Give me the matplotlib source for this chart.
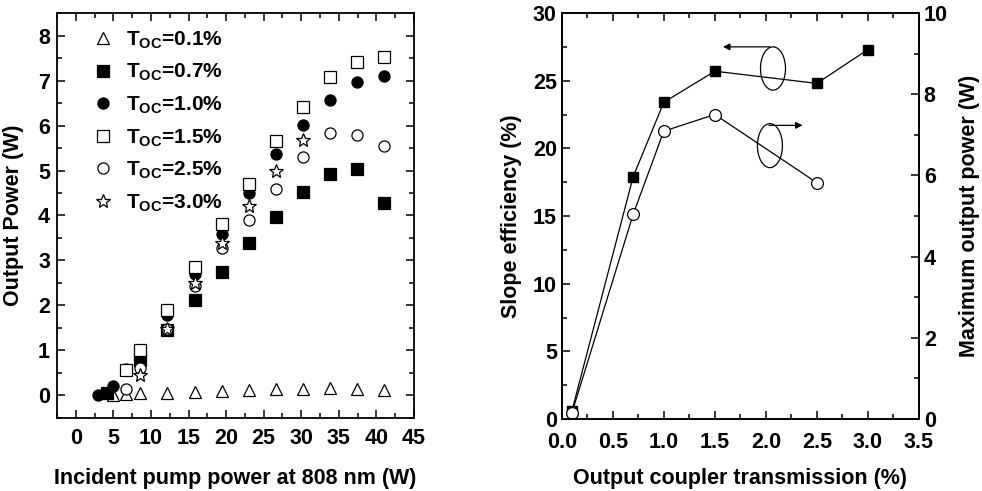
import numpy as np
import matplotlib
matplotlib.use("Agg")
import matplotlib.pyplot as plt
from matplotlib.patches import Ellipse
from matplotlib.ticker import MultipleLocator

matplotlib.rcParams.update(
    {
        'font.family': ['Liberation Sans', 'DejaVu Sans'],
        'font.weight': 'bold',
        'axes.labelweight': 'bold',
        'axes.linewidth': 1.3,
        'mathtext.fontset': 'custom',
        'mathtext.rm': 'Liberation Sans:bold',
        'mathtext.it': 'Liberation Sans:bold',
        'mathtext.bf': 'Liberation Sans:bold',
    }
)

# left panel: output power vs incident pump power
labels = ["0.1", "0.7", "1.0", "1.5", "2.5", "3.0"]

x_01 = [4.9, 6.7, 8.6, 12.2, 15.8, 19.4, 23.0, 26.6, 30.2, 33.8, 37.4, 41.0]
y_01 = [0.02, 0.03, 0.05, 0.06, 0.08, 0.11, 0.13, 0.14, 0.15, 0.17, 0.15, 0.13]

x_07 = [4.1, 8.6, 12.2, 15.8, 19.4, 23.0, 26.6, 30.2, 33.8, 37.4, 41.0]
y_07 = [0.06, 0.78, 1.45, 2.12, 2.75, 3.38, 3.97, 4.53, 4.92, 5.03, 4.27]

x_10 = [3.0, 4.9, 6.7, 8.6, 12.2, 15.8, 19.4, 23.0, 26.6, 30.2, 33.8, 37.4, 41.0]
y_10 = [0.0, 0.2, 0.58, 0.98, 1.79, 2.69, 3.58, 4.5, 5.36, 6.02, 6.57, 6.96, 7.1]

x_15 = [6.7, 8.6, 12.2, 15.8, 19.4, 23.0, 26.6, 30.2, 33.8, 37.4, 41.0]
y_15 = [0.57, 1.02, 1.9, 2.86, 3.81, 4.69, 5.65, 6.42, 7.07, 7.42, 7.52]

x_25 = [6.7, 8.6, 12.2, 15.8, 19.4, 23.0, 26.6, 30.2, 33.8, 37.4, 41.0]
y_25 = [0.15, 0.6, 1.47, 2.43, 3.27, 3.89, 4.58, 5.3, 5.83, 5.8, 5.55]

x_30 = [8.6, 12.2, 15.8, 19.4, 23.0, 26.6, 30.2]
y_30 = [0.46, 1.47, 2.5, 3.38, 4.22, 5.0, 5.67]

# right panel
t_oc = [0.1, 0.7, 1.0, 1.5, 2.5, 3.0]
slope = [0.6, 17.9, 23.4, 25.7, 24.8, 27.3]
t_oc_p = [0.1, 0.7, 1.0, 1.5, 2.5]
pmax = [0.15, 5.04, 7.09, 7.5, 5.82]

fig = plt.figure(figsize=(9.82, 4.91), dpi=100)
ax1 = fig.add_axes([0.058, 0.1487, 0.3636, 0.8248])

series = [
    (x_01, y_01, '^', 'white'),
    (x_07, y_07, 's', 'black'),
    (x_10, y_10, 'o', 'black'),
    (x_15, y_15, 's', 'white'),
    (x_25, y_25, 'o', 'white'),
    (x_30, y_30, '*', 'white'),
]
for (xs, ys, m, fc), lab in zip(series, labels):
    ms = 10.5 if m == '*' else 8
    ax1.plot(xs, ys, linestyle='none', marker=m, markersize=ms,
             markerfacecolor=fc, markeredgecolor='black', markeredgewidth=0.9,
             label=r'T$_{\mathregular{OC}}$=' + lab + '%')

ax1.set_xlim(-2.5, 45)
ax1.set_ylim(-0.5, 8.5)
ax1.xaxis.set_major_locator(MultipleLocator(5))
ax1.xaxis.set_minor_locator(MultipleLocator(2.5))
ax1.yaxis.set_major_locator(MultipleLocator(1))
ax1.yaxis.set_minor_locator(MultipleLocator(0.5))
ax1.tick_params(which='both', direction='in', top=True, right=True,
                labelsize=15.5, width=1.1)
ax1.tick_params(which='major', length=6, pad=5)
ax1.tick_params(which='minor', length=3.5)
ax1.tick_params(axis='x', which='major', pad=7)
ax1.set_xlabel("Incident pump power at 808 nm (W)", fontsize=15.5, labelpad=14)
ax1.set_ylabel("Output Power (W)", fontsize=15.5, labelpad=10)

leg = ax1.legend(loc='upper left', bbox_to_anchor=(0.06, 0.99), frameon=False,
                 fontsize=15, handletextpad=0.5, labelspacing=0.54,
                 handlelength=1.2, borderaxespad=0.2)

# right panel
ax2 = fig.add_axes([0.572, 0.1466, 0.3638, 0.8269])
ax3 = ax2.twinx()

ax2.plot(t_oc, slope, color='black', linewidth=0.9, marker='s', markersize=7.5,
         markerfacecolor='black', markeredgecolor='black')
ax3.plot(t_oc_p, pmax, color='black', linewidth=0.9, marker='o', markersize=8.5,
         markerfacecolor='white', markeredgecolor='black', markeredgewidth=0.9)

ax2.set_xlim(0, 3.5)
ax2.set_ylim(0, 30)
ax3.set_ylim(0, 10)
ax2.xaxis.set_major_locator(MultipleLocator(0.5))
ax2.xaxis.set_minor_locator(MultipleLocator(0.25))
ax2.yaxis.set_major_locator(MultipleLocator(5))
ax2.yaxis.set_minor_locator(MultipleLocator(2.5))
ax3.yaxis.set_major_locator(MultipleLocator(2))
ax3.yaxis.set_minor_locator(MultipleLocator(1))
ax2.tick_params(which='both', direction='in', top=True, labelsize=15.5, width=1.1)
ax3.tick_params(which='both', direction='in', labelsize=15.5, width=1.1)
for a in (ax2, ax3):
    a.tick_params(which='major', length=6)
    a.tick_params(which='minor', length=3.5)
ax2.tick_params(axis='x', which='major', pad=9.5)
ax2.set_xlabel("Output coupler transmission (%)", fontsize=15.5, labelpad=11)
ax2.set_ylabel("Slope efficiency (%)", fontsize=15.5, labelpad=8)
ax3.set_ylabel("Maximum output power (W)", fontsize=15.5, labelpad=8)

# ellipse + arrow annotations
ax2.add_patch(Ellipse((2.07, 25.9), 0.245, 3.2, fill=False, edgecolor='black', linewidth=0.9))
ax2.annotate("", xy=(1.58, 27.5), xytext=(2.04, 27.5),
             arrowprops=dict(arrowstyle='-|>', color='black', lw=0.9,
                             mutation_scale=10, shrinkA=0, shrinkB=0))
ax2.add_patch(Ellipse((2.04, 20.2), 0.245, 3.25, fill=False, edgecolor='black', linewidth=0.9))
ax2.annotate("", xy=(2.36, 21.7), xytext=(2.03, 21.7),
             arrowprops=dict(arrowstyle='-|>', color='black', lw=0.9,
                             mutation_scale=10, shrinkA=0, shrinkB=0))

fig.savefig("out.png", dpi=100)
